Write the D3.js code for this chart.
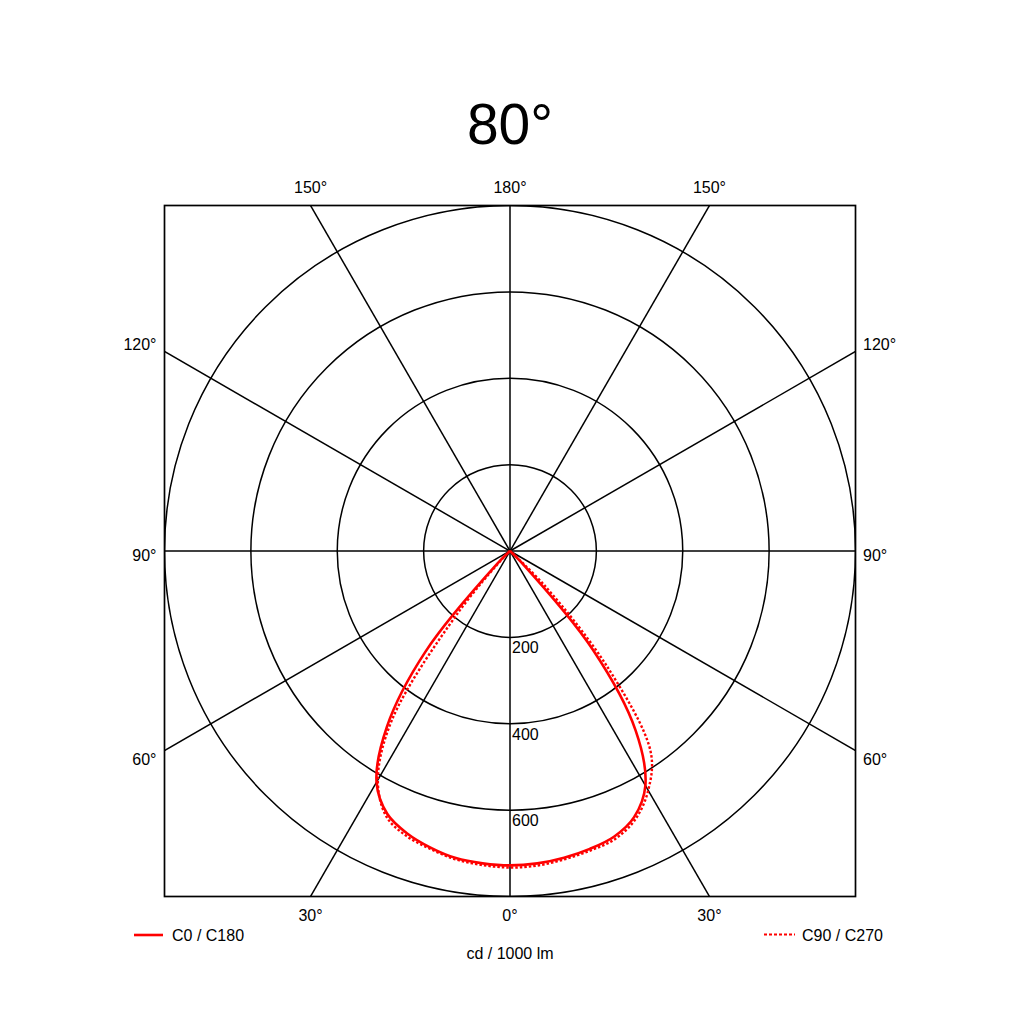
<!DOCTYPE html>
<html>
<head>
<meta charset="utf-8">
<script src="https://cdn.jsdelivr.net/npm/d3@7/dist/d3.min.js"></script>
<style>
  html, body { margin: 0; padding: 0; background: #fff; }
  svg text { font-family: "Liberation Sans", Arial, sans-serif; fill: #000; }
</style>
</head>
<body>
<div id="chart"></div>
<script>
// Luminous intensity in cd / 1000 lm, gamma measured from nadir (0°)
const title = "80°";
const gammas = [0, 5, 10, 15, 20, 25, 30, 35, 40, 45, 50, 55, 60, 65, 70, 75, 80, 85, 90];
const c0    = [728, 726, 721, 714, 704, 680, 627, 507, 298, 35, 0, 0, 0, 0, 0, 0, 0, 0, 0];
const c180  = [728, 726, 722, 711, 696, 672, 618, 497, 305, 40, 0, 0, 0, 0, 0, 0, 0, 0, 0];
const c90   = [733, 731, 725, 718, 710, 686, 640, 568, 352, 115, 0, 0, 0, 0, 0, 0, 0, 0, 0];
const c270  = [733, 730, 725, 714, 702, 678, 612, 475, 190, 20, 0, 0, 0, 0, 0, 0, 0, 0, 0];

const ringValues = [200, 400, 600, 800];
const ringLabels = [200, 400, 600];
const spokeAngles = [0, 30, 60, 90, 120, 150, 180, 210, 240, 270, 300, 330];
const sideLabels = [60, 90, 120];      // shown left and right
const topLabels = [150, 180, 150];     // above the box
const bottomLabels = [30, 0, 30];      // below the box
const legendItems = ["C0 / C180", "C90 / C270"];
const unitLabel = "cd / 1000 lm";

const cfg = {
  width: 1024, height: 1024,
  cx: 510, cy: 551,
  half: 345.5,            // half size of the square frame = 800 cd
  maxValue: 800,
  red: "#ff0000"
};

const svg = d3.select("#chart").append("svg")
  .attr("width", cfg.width)
  .attr("height", cfg.height);

svg.append("rect").attr("width", cfg.width).attr("height", cfg.height).attr("fill", "#fff");

const r = d3.scaleLinear().domain([0, cfg.maxValue]).range([0, cfg.half]);
const rad = d => d * Math.PI / 180;

// Title
svg.append("text")
  .attr("x", cfg.cx).attr("y", 144)
  .attr("text-anchor", "middle")
  .attr("font-size", 57)
  .text(title);

// Clip everything to the frame
svg.append("clipPath").attr("id", "frame")
  .append("rect")
  .attr("x", cfg.cx - cfg.half).attr("y", cfg.cy - cfg.half)
  .attr("width", cfg.half * 2).attr("height", cfg.half * 2);

const g = svg.append("g")
  .attr("transform", `translate(${cfg.cx},${cfg.cy})`);

const grid = g.append("g").attr("clip-path", "url(#frame)")
  .attr("transform", `translate(${-cfg.cx},${-cfg.cy})`)
  .append("g").attr("transform", `translate(${cfg.cx},${cfg.cy})`);

// Rings
grid.selectAll("circle.ring")
  .data(ringValues)
  .enter().append("circle")
  .attr("class", "ring")
  .attr("r", d => r(d))
  .attr("fill", "none")
  .attr("stroke", "#000")
  .attr("stroke-width", 1.5);

// Spokes (angle measured from downward direction)
grid.selectAll("line.spoke")
  .data(spokeAngles)
  .enter().append("line")
  .attr("class", "spoke")
  .attr("x1", 0).attr("y1", 0)
  .attr("x2", d => Math.sin(rad(d)) * cfg.half * 2)
  .attr("y2", d => Math.cos(rad(d)) * cfg.half * 2)
  .attr("stroke", "#000")
  .attr("stroke-width", 1.5);

// Ring value labels
g.selectAll("text.ringlabel")
  .data(ringLabels)
  .enter().append("text")
  .attr("class", "ringlabel")
  .attr("x", 2)
  .attr("y", d => r(d) + 16)
  .attr("font-size", 16)
  .text(d => d);

// Curves
const line = d3.lineRadial()
  .angle(d => d.a)
  .radius(d => r(d.v))
  .curve(d3.curveCatmullRom.alpha(0.5));

function halfPlane(left, right) {
  const pts = [];
  for (let i = gammas.length - 1; i >= 0; i--) pts.push({a: Math.PI + rad(gammas[i]), v: left[i]});
  for (let i = 1; i < gammas.length; i++) pts.push({a: Math.PI - rad(gammas[i]), v: right[i]});
  return pts;
}

g.append("path")
  .datum(halfPlane(c270, c90))
  .attr("d", line)
  .attr("fill", "none")
  .attr("stroke", cfg.red)
  .attr("stroke-width", 2.4)
  .attr("stroke-dasharray", "2.5,2");

g.append("path")
  .datum(halfPlane(c180, c0))
  .attr("d", line)
  .attr("fill", "none")
  .attr("stroke", cfg.red)
  .attr("stroke-width", 2.6);

// Frame
g.append("rect")
  .attr("x", -cfg.half).attr("y", -cfg.half)
  .attr("width", cfg.half * 2).attr("height", cfg.half * 2)
  .attr("fill", "none")
  .attr("stroke", "#000")
  .attr("stroke-width", 1.7);

// Angle labels
const tan30 = Math.tan(rad(30));
const topX = [-cfg.half * tan30, 0, cfg.half * tan30];

g.selectAll("text.top")
  .data(topLabels)
  .enter().append("text")
  .attr("x", (d, i) => topX[i])
  .attr("y", -cfg.half - 12.5)
  .attr("text-anchor", "middle")
  .attr("font-size", 16)
  .text(d => d + "°");

g.selectAll("text.bottom")
  .data(bottomLabels)
  .enter().append("text")
  .attr("x", (d, i) => topX[i])
  .attr("y", cfg.half + 24)
  .attr("text-anchor", "middle")
  .attr("font-size", 16)
  .text(d => d + "°");

const sideY = d => Math.abs(d - 90) < 1e-6 ? 10 : 360 / Math.tan(rad(d)) + 6.5;

g.selectAll("text.left")
  .data(sideLabels)
  .enter().append("text")
  .attr("x", -cfg.half - 8)
  .attr("y", d => sideY(d))
  .attr("text-anchor", "end")
  .attr("font-size", 16)
  .text(d => d + "°");

g.selectAll("text.right")
  .data(sideLabels)
  .enter().append("text")
  .attr("x", cfg.half + 7.5)
  .attr("y", d => sideY(d))
  .attr("text-anchor", "start")
  .attr("font-size", 16)
  .text(d => d + "°");

// Legend
const legend = svg.append("g");
legend.append("line")
  .attr("x1", 134).attr("x2", 163).attr("y1", 935).attr("y2", 935)
  .attr("stroke", cfg.red).attr("stroke-width", 2.6);
legend.append("text")
  .attr("x", 172).attr("y", 941)
  .attr("font-size", 16)
  .text(legendItems[0]);

legend.append("line")
  .attr("x1", 764).attr("x2", 795).attr("y1", 934.5).attr("y2", 934.5)
  .attr("stroke", cfg.red).attr("stroke-width", 2)
  .attr("stroke-dasharray", "3,2");
legend.append("text")
  .attr("x", 883).attr("y", 941)
  .attr("text-anchor", "end")
  .attr("font-size", 16)
  .text(legendItems[1]);

svg.append("text")
  .attr("x", cfg.cx).attr("y", 959)
  .attr("text-anchor", "middle")
  .attr("font-size", 16)
  .text(unitLabel);
</script>
</body>
</html>
